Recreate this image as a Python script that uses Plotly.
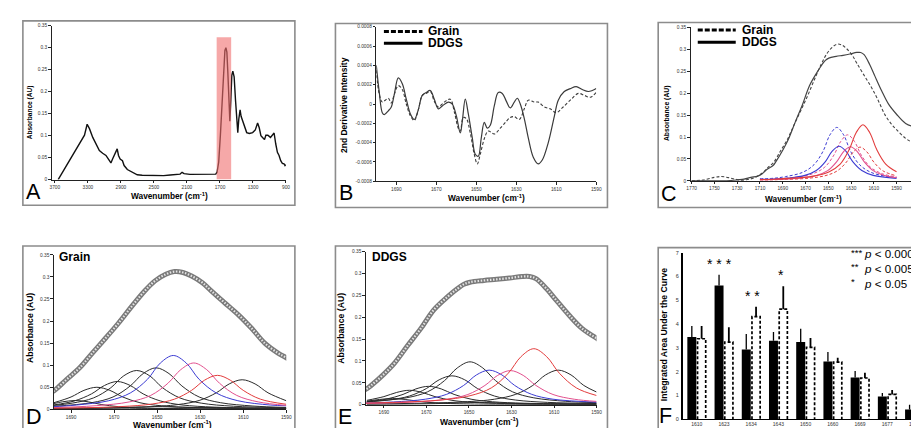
import plotly.graph_objects as go

FIG_W, FIG_H = 919, 428
FONT = "Liberation Sans, Arial, Helvetica, sans-serif"

# ---------------- Panel A : full FTIR spectrum ----------------
A_WN = [3660, 3580, 3500, 3440, 3381, 3341, 3309, 3281, 3241, 3189,
        3161, 3121, 3081, 3053, 3021, 3001, 2981, 2961, 2945, 2929,
        2909, 2881, 2861, 2822, 2762, 2702, 2642, 2542, 2382, 2302,
        2223, 2183, 2159, 2135, 2063, 1983, 1903, 1803, 1751, 1735,
        1715, 1695, 1676, 1656, 1640, 1628, 1616, 1604, 1592, 1580,
        1568, 1556, 1544, 1528, 1512, 1496, 1484, 1472, 1456, 1444,
        1432, 1416, 1396, 1376, 1344, 1304, 1272, 1244, 1224, 1204,
        1184, 1160, 1144, 1120, 1088, 1064, 1044, 1024, 1004, 984,
        964, 944, 924, 912, 901]
A_ABS = [0.000, 0.025, 0.051, 0.070, 0.088, 0.101, 0.126, 0.116, 0.096, 0.077,
         0.066, 0.060, 0.055, 0.047, 0.038, 0.047, 0.056, 0.061, 0.070, 0.055,
         0.047, 0.043, 0.032, 0.023, 0.016, 0.011, 0.010, 0.009, 0.009, 0.0105,
         0.0125, 0.0125, 0.0165, 0.0135, 0.012, 0.0125, 0.012, 0.012, 0.0125, 0.017,
         0.040, 0.100, 0.174, 0.249, 0.294, 0.300, 0.290, 0.242, 0.174, 0.133,
         0.182, 0.238, 0.247, 0.234, 0.182, 0.129, 0.107, 0.137, 0.159, 0.144,
         0.137, 0.129, 0.118, 0.107, 0.105, 0.107, 0.113, 0.129, 0.118, 0.100,
         0.096, 0.091, 0.101, 0.101, 0.096, 0.101, 0.106, 0.081, 0.062, 0.055,
         0.043, 0.037, 0.036, 0.032, 0.034]
A_HIGHLIGHT_WN = [1740, 1564]
A_HIGHLIGHT_TOP = 0.324
A_XTICKS = [3700, 3300, 2900, 2500, 2100, 1700, 1300, 900]

# ---------------- Panel B : 2nd derivative ----------------
B_DDGS = [(1700, 0.00040), (1698.5, 0.00012), (1697, -0.00009), (1696, -0.00011), (1694, -0.00007),
          (1692.5, -0.00003), (1691, 0.00010), (1689, 0.00027), (1687, 0.00021), (1685, 0.00005),
          (1683, -0.00010), (1681, -0.00016), (1679, -0.00006), (1677, 0.00009), (1675, 0.00012),
          (1673, 0.00014), (1671, 0.00005), (1669, -0.00005), (1667, -0.00002), (1664, 0.00002),
          (1662, 0.00000), (1660, -0.00012), (1658, -0.00030), (1657, -0.00018), (1655.5, 0.00005),
          (1654, -0.00010), (1652, -0.00035), (1650.5, -0.00052), (1649, -0.00054), (1647.5, -0.00035),
          (1646, -0.00019), (1644.5, -0.00025), (1643, -0.00022), (1641, -0.00002), (1639, 0.00012),
          (1637, 0.00011), (1635, 0.00003), (1633, -0.00004), (1631, 0.00002), (1629.5, 0.00006),
          (1628, 0.00000), (1626, -0.00015), (1624, -0.00035), (1621.5, -0.00055), (1619, -0.00062),
          (1617, -0.00058), (1614, -0.00040), (1611, -0.00013), (1609, 0.00004), (1606, 0.00013),
          (1603, 0.00016), (1600, 0.00018), (1597, 0.00015), (1594, 0.00013), (1592, 0.00014),
          (1590, 0.00016)]
B_GRAIN = [(1700, 0.00035), (1698.5, 0.00010), (1697, 0.00002), (1695.5, 0.00004), (1694, 0.00006),
           (1692.5, 0.00001), (1691, 0.00010), (1689, 0.00019), (1687, 0.00015), (1685, 0.00000),
           (1683, -0.00012), (1681, -0.00017), (1679, -0.00006), (1677, 0.00009), (1675, 0.00011),
           (1673, 0.00013), (1671, 0.00003), (1669, -0.00003), (1666, 0.00002), (1663, 0.00005),
           (1661, -0.00008), (1659, -0.00025), (1658, -0.00028), (1656.5, -0.00014), (1655, -0.00015),
           (1653, -0.00030), (1651, -0.00052), (1649.5, -0.00062), (1648, -0.00052), (1646, -0.00036),
           (1644, -0.00028), (1641, -0.00031), (1638, -0.00025), (1635, -0.00018), (1633, -0.00014),
           (1631, -0.00013), (1628.5, -0.00016), (1626, -0.00005), (1624, 0.00004), (1621, 0.00002),
           (1619, 0.00002), (1616, -0.00003), (1613, -0.00005), (1610, -0.00009), (1607, -0.00004),
           (1603, 0.00004), (1599, 0.00011), (1596, 0.00009), (1593, 0.00007), (1590, 0.00012)]
B_XTICKS = [1690, 1670, 1650, 1630, 1610, 1590]
B_YTICKS = [-0.0008, -0.0006, -0.0004, -0.0002, 0, 0.0002, 0.0004, 0.0006, 0.0008]
B_YTICK_TEXT = ["-0.0008", "-0.0006", "-0.0004", "-0.0002", "0", "0.0002", "0.0004", "0.0006", "0.0008"]

# ---------------- Amide I spectra (panels C, D, E) ----------------
GRAIN_SPEC = [(1770, 0.0), (1760, 0.002), (1750, 0.008), (1744, 0.010), (1738, 0.0075), (1732, 0.004),
              (1727, 0.0015), (1721, 0.003), (1715, 0.007), (1710, 0.014), (1706, 0.022), (1702, 0.033),
              (1698, 0.042), (1692, 0.068), (1686, 0.094), (1680, 0.128), (1674, 0.161), (1668, 0.195),
              (1662, 0.232), (1656, 0.267), (1651, 0.291), (1646, 0.306), (1642, 0.312), (1638, 0.310),
              (1634, 0.302), (1629, 0.287), (1625, 0.269), (1619, 0.243), (1612, 0.213), (1606, 0.183),
              (1600, 0.150), (1594, 0.128), (1590, 0.117), (1582, 0.097), (1576, 0.088), (1568, 0.084)]
DDGS_SPEC = [(1770, 0.0), (1747, 0.0), (1733, 0.0015), (1724, 0.004), (1718, 0.008), (1712, 0.011),
             (1708, 0.0165), (1704, 0.026), (1698.5, 0.035), (1696, 0.044), (1690, 0.070), (1685, 0.095),
             (1679, 0.134), (1672.5, 0.175), (1666.5, 0.217), (1660, 0.247), (1655.5, 0.265),
             (1652.5, 0.275), (1649.5, 0.280), (1643, 0.284), (1637, 0.2865), (1631, 0.2895),
             (1625, 0.293), (1621.5, 0.293), (1618.5, 0.288), (1613.5, 0.265), (1609, 0.239),
             (1603, 0.205), (1597, 0.175), (1590, 0.152), (1582, 0.131), (1576, 0.125), (1568, 0.125)]
C_XTICKS = [1770, 1750, 1730, 1710, 1690, 1670, 1650, 1630, 1610, 1590, 1570]
DE_XTICKS = [1690, 1670, 1650, 1630, 1610, 1590]

# fitted component bands, Grain (panel D)
G_1686 = [(1698, 0.013), (1694, 0.017), (1688, 0.020), (1682, 0.017), (1676, 0.011), (1668, 0.006),
          (1658, 0.003), (1643, 0.0016), (1620, 0.0009), (1590, 0.0005)]
G_1677 = [(1698, 0.015), (1690, 0.028), (1684, 0.043), (1678, 0.050), (1672, 0.043), (1666, 0.028),
          (1658, 0.015), (1648, 0.008), (1633, 0.004), (1610, 0.0022), (1590, 0.0015)]
G_1669 = [(1698, 0.010), (1688.5, 0.019), (1680.5, 0.035), (1674.5, 0.054), (1668.5, 0.063),
          (1662.5, 0.054), (1656.5, 0.035), (1648.5, 0.019), (1638.5, 0.010), (1623.5, 0.005),
          (1600, 0.0028), (1590, 0.0024)]
G_1660 = [(1698, 0.009), (1689.5, 0.014), (1679.5, 0.026), (1671.5, 0.049), (1665.5, 0.076),
          (1659.5, 0.088), (1653.5, 0.076), (1647.5, 0.049), (1639.5, 0.026), (1629.5, 0.014),
          (1614.5, 0.007), (1590, 0.0035)]
G_1650 = [(1698, 0.007), (1680.5, 0.015), (1670.5, 0.028), (1662.5, 0.053), (1656.5, 0.081),
          (1650.5, 0.094), (1644.5, 0.081), (1638.5, 0.053), (1630.5, 0.028), (1620.5, 0.015),
          (1605.5, 0.0075), (1590, 0.0042)]
G_1643 = [(1710, 0.005), (1698, 0.006), (1687.5, 0.0098), (1672.5, 0.0195), (1662.5, 0.037),
          (1654.5, 0.068), (1648.5, 0.105), (1642.5, 0.122), (1636.5, 0.105), (1630.5, 0.068),
          (1622.5, 0.037), (1612.5, 0.0195), (1597.5, 0.0098), (1590, 0.008)]
G_1634 = [(1710, 0.0035), (1698, 0.004), (1678, 0.0084), (1663, 0.0168), (1653, 0.0315), (1645, 0.059),
          (1639, 0.090), (1633, 0.105), (1627, 0.090), (1621, 0.059), (1613, 0.0315), (1603, 0.0168),
          (1590, 0.009)]
G_1623 = [(1710, 0.002), (1698, 0.0025), (1667, 0.0062), (1652, 0.0123), (1642, 0.023), (1634, 0.043),
          (1628, 0.066), (1622, 0.077), (1616, 0.066), (1610, 0.043), (1602, 0.023), (1590, 0.0115)]
G_1610 = [(1698, 0.002), (1655.5, 0.0054), (1640.5, 0.0107), (1630.5, 0.020), (1622.5, 0.0375),
          (1616.5, 0.0576), (1610.5, 0.067), (1604.5, 0.0576), (1598.5, 0.0375), (1590, 0.0195)]
G_MINOR_A = [(1698, 0.001), (1675, 0.003), (1660, 0.005), (1650, 0.006), (1640, 0.005), (1625, 0.003),
             (1590, 0.001)]
G_MINOR_B = [(1698, 0.0005), (1660, 0.0012), (1640, 0.0022), (1625, 0.004), (1615, 0.0032), (1590, 0.0012)]

# fitted component bands, DDGS (panel E)
S_1686 = [(1698, 0.008), (1692, 0.012), (1686, 0.014), (1680, 0.012), (1674, 0.008), (1666, 0.0042),
          (1656, 0.0022), (1641, 0.0011), (1590, 0.0004)]
S_1677 = [(1698, 0.010), (1690, 0.0185), (1684, 0.028), (1678, 0.033), (1672, 0.028), (1666, 0.0185),
          (1658, 0.010), (1648, 0.0053), (1633, 0.0026), (1610, 0.0015), (1590, 0.001)]
S_1669 = [(1698, 0.007), (1689, 0.0126), (1681, 0.0235), (1675, 0.036), (1669, 0.042), (1663, 0.036),
          (1657, 0.0235), (1649, 0.0126), (1639, 0.0067), (1624, 0.0034), (1600, 0.0019), (1590, 0.0016)]
S_1660 = [(1698, 0.0066), (1688, 0.0106), (1678, 0.0198), (1670, 0.037), (1664, 0.057), (1658, 0.066),
          (1652, 0.057), (1646, 0.037), (1638, 0.0198), (1628, 0.0106), (1613, 0.0053), (1590, 0.0027)]
S_1650 = [(1698, 0.0074), (1679.5, 0.0157), (1669.5, 0.0294), (1661.5, 0.055), (1655.5, 0.084),
          (1649.5, 0.098), (1643.5, 0.084), (1637.5, 0.055), (1629.5, 0.0294), (1619.5, 0.0157),
          (1604.5, 0.0078), (1590, 0.0045)]
S_1643 = [(1710, 0.0033), (1698, 0.004), (1685.5, 0.0063), (1670.5, 0.0126), (1660.5, 0.0237),
          (1652.5, 0.044), (1646.5, 0.068), (1640.5, 0.079), (1634.5, 0.068), (1628.5, 0.044),
          (1620.5, 0.0237), (1610.5, 0.0126), (1590, 0.0058)]
S_1634 = [(1710, 0.0025), (1698, 0.003), (1675.5, 0.0062), (1660.5, 0.0125), (1650.5, 0.0234),
          (1642.5, 0.044), (1636.5, 0.067), (1630.5, 0.078), (1624.5, 0.067), (1618.5, 0.044),
          (1610.5, 0.0234), (1600.5, 0.0125), (1590, 0.0075)]
S_1623 = [(1710, 0.0033), (1698, 0.0038), (1664.5, 0.0102), (1649.5, 0.0205), (1639.5, 0.0384),
          (1631.5, 0.072), (1625.5, 0.110), (1619.5, 0.128), (1613.5, 0.110), (1607.5, 0.072),
          (1599.5, 0.0384), (1590, 0.021)]
S_1610 = [(1698, 0.0016), (1653, 0.0063), (1638, 0.0126), (1628, 0.0237), (1620, 0.044), (1614, 0.068),
          (1608, 0.079), (1602, 0.068), (1596, 0.044), (1590, 0.029)]
S_MINOR_A = [(1698, 0.001), (1670, 0.002), (1655, 0.004), (1645, 0.005), (1635, 0.004), (1620, 0.002),
             (1590, 0.001)]

# ---------------- Panel F : integrated band areas ----------------
F_BANDS = ["1610", "1623", "1634", "1643", "1650", "1660", "1669", "1677", "1686"]
F_DDGS = [3.45, 5.62, 2.93, 3.30, 3.24, 2.42, 1.75, 0.95, 0.41]
F_DDGS_ERR = [0.47, 0.45, 0.65, 0.36, 0.56, 0.40, 0.28, 0.15, 0.20]
F_GRAIN = [3.38, 3.24, 4.31, 4.62, 3.02, 2.40, 1.73, 1.04, 0.65]
F_GRAIN_ERR = [0.54, 0.62, 0.41, 0.97, 0.39, 0.18, 0.22, 0.19, 0.21]
F_YTICKS = [0, 1, 2, 3, 4, 5, 6, 7]
F_SIG_BANDS = ["1623", "1634", "1643"]
F_SIG_MARKS = ["* * *", "* *", "*"]
F_SIG_LEGEND = [("***", "<i>p</i> < 0.0005"), ("**", "<i>p</i> < 0.005"), ("*", "<i>p</i> < 0.05")]

# ---------------- styling ----------------
BLACK = "#2b2b2b"
BLUE = "#3c3cd2"
PINK = "#e2508e"
RED = "#e23c3c"
FRAME = "#8c8c8c"


def px(x):
    return x / FIG_W


def py(y):
    return 1 - y / FIG_H


def unzip(pairs):
    return [p[0] for p in pairs], [p[1] for p in pairs]


fig = go.Figure()


def line_trace(pairs, xa, ya, color, width=1.1, dash=None, shape="spline", name=None):
    xs, ys = unzip(pairs)
    fig.add_trace(go.Scatter(x=xs, y=ys, mode="lines", xaxis=xa, yaxis=ya, name=name,
                             line=dict(color=color, width=width, dash=dash, shape=shape),
                             showlegend=False, hoverinfo="skip"))


# Panel A
fig.add_trace(go.Scatter(x=A_WN, y=A_ABS, mode="lines", xaxis="x", yaxis="y", name="Spectrum",
                         line=dict(color="#111111", width=1.4), showlegend=False))

# Panel B
line_trace(B_GRAIN, "x2", "y2", "#3a3a3a", 1.1, "3px,2px", name="Grain")
line_trace(B_DDGS, "x2", "y2", "#3a3a3a", 1.2, None, name="DDGS")

# Panel C
line_trace(GRAIN_SPEC, "x3", "y3", "#444444", 1.1, "3px,2px", name="Grain")
line_trace(DDGS_SPEC, "x3", "y3", "#444444", 1.2, None, name="DDGS")
for band, col in [(G_1643, BLUE), (G_1634, PINK), (G_1623, RED)]:
    line_trace(band, "x3", "y3", col, 1.0, "3px,2px")
for band, col in [(S_1643, BLUE), (S_1634, PINK), (S_1623, RED)]:
    line_trace(band, "x3", "y3", col, 1.1, None)

# Panels D and E
for spec, bands, xa, ya in [
    (GRAIN_SPEC, [(G_MINOR_A, BLACK), (G_MINOR_B, BLACK), (G_1686, BLACK), (G_1677, BLACK),
                  (G_1669, BLACK), (G_1660, BLACK), (G_1650, BLACK), (G_1610, BLACK),
                  (G_1643, BLUE), (G_1634, PINK), (G_1623, RED)], "x4", "y4"),
    (DDGS_SPEC, [(S_MINOR_A, BLACK), (S_1686, BLACK), (S_1677, BLACK), (S_1669, BLACK),
                 (S_1660, BLACK), (S_1650, BLACK), (S_1610, BLACK),
                 (S_1643, BLUE), (S_1634, PINK), (S_1623, RED)], "x5", "y5"),
]:
    for band, col in bands:
        line_trace(band, xa, ya, col, 1.0)
    line_trace(spec, xa, ya, "#7a7a7a", 5.0)
    line_trace(spec, xa, ya, "#e4e4e4", 2.2, "1.5px,1.6px")

# Panel F
idx = list(range(len(F_BANDS)))
BAR_W_D, BAR_OFF_D = 0.33, -0.345
BAR_W_G, BAR_OFF_G = 0.30, 0.03
fig.add_trace(go.Bar(x=idx, y=F_DDGS, width=BAR_W_D, offset=BAR_OFF_D, name="DDGS",
                     marker=dict(color="black", line=dict(width=0)),
                     error_y=dict(type="data", array=F_DDGS_ERR, arrayminus=[0] * len(idx), symmetric=False,
                                  color="black", thickness=1.3, width=0),
                     xaxis="x6", yaxis="y6", showlegend=False))
fig.add_trace(go.Bar(x=idx, y=F_GRAIN, width=BAR_W_G, offset=BAR_OFF_G, name="Grain",
                     marker=dict(color="white", line=dict(width=0)),
                     error_y=dict(type="data", array=F_GRAIN_ERR, arrayminus=[0] * len(idx), symmetric=False,
                                  color="black", thickness=1.8, width=0),
                     xaxis="x6", yaxis="y6", showlegend=False))
ox, oy = [], []
for i, v in zip(idx, F_GRAIN):
    x0 = i + BAR_OFF_G
    x1 = x0 + BAR_W_G
    ox += [x0, x0, x1, x1, None]
    oy += [0, v, v, 0, None]
fig.add_trace(go.Scatter(x=ox, y=oy, mode="lines", xaxis="x6", yaxis="y6", showlegend=False,
                         line=dict(color="black", width=1.7, dash="3px,2px"), hoverinfo="skip"))


def ax(**kw):
    d = dict(showgrid=False, zeroline=False, showline=True, linecolor="#222222", linewidth=1,
             ticks="outside", ticklen=2.5, tickwidth=0.8, tickcolor="#222222",
             tickfont=dict(size=4.8, color="#333333", family=FONT), fixedrange=True)
    d.update(kw)
    return d


ABS_TICKS = [0, 0.05, 0.1, 0.15, 0.2, 0.25, 0.3, 0.35]
ABS_TEXT = ["0", "0.05", "0.1", "0.15", "0.2", "0.25", "0.3", "0.35"]

layout = dict(
    width=FIG_W, height=FIG_H, margin=dict(l=0, r=0, t=0, b=0),
    paper_bgcolor="white", plot_bgcolor="white", showlegend=False,
    font=dict(family=FONT, color="black"), barmode="overlay",
    xaxis=ax(domain=[px(40), px(277)], range=[3740, 900], tickvals=A_XTICKS, anchor="y"),
    yaxis=ax(domain=[py(171), py(15)], range=[0, 0.35], tickvals=ABS_TICKS, ticktext=ABS_TEXT, anchor="x"),
    xaxis2=ax(domain=[px(368.3), px(590.7)], range=[1700, 1590], tickvals=B_XTICKS, anchor="y2"),
    yaxis2=ax(domain=[py(172.7), py(16)], range=[-0.0008, 0.0008], tickvals=B_YTICKS,
              ticktext=B_YTICK_TEXT, anchor="x2"),
    xaxis3=ax(domain=[px(686), 1.0], range=[1771, 1568.5], tickvals=C_XTICKS, anchor="y3"),
    yaxis3=ax(domain=[py(172.3), py(16.7)], range=[0, 0.35], tickvals=ABS_TICKS, ticktext=ABS_TEXT, anchor="x3"),
    xaxis4=ax(domain=[px(42.3), px(277.3)], range=[1698, 1590], tickvals=DE_XTICKS, anchor="y4"),
    yaxis4=ax(domain=[py(404), py(247.3)], range=[0, 0.35], tickvals=ABS_TICKS, ticktext=ABS_TEXT, anchor="x4"),
    xaxis5=ax(domain=[px(357.7), px(591)], range=[1698.5, 1590], tickvals=DE_XTICKS, anchor="y5"),
    yaxis5=ax(domain=[py(399.3), py(244)], range=[0, 0.35], tickvals=ABS_TICKS, ticktext=ABS_TEXT, anchor="x5"),
    xaxis6=ax(domain=[px(678.5), 1.0], range=[-0.5, 8.24], tickvals=idx, ticktext=F_BANDS, ticks="",
              linecolor="black", linewidth=1.2, anchor="y6", tickfont=dict(size=5, color="#333333", family=FONT)),
    yaxis6=ax(domain=[py(414), py(245)], range=[0, 7], tickvals=F_YTICKS, ticktext=[str(t) for t in F_YTICKS],
              anchor="x6", linecolor="black", linewidth=1.6, ticklen=1.5, tickcolor="white",
              tickfont=dict(size=5.5, color="#333333", family=FONT)),
)

shapes = []
# panel frames
for x0, y0, x1, y1 in [(11, 10, 286, 197), (327, 12.7, 602, 199.3), (653.3, 11.7, 935, 199.3),
                       (11, 238.3, 286, 425.7), (327, 238.3, 602, 425), (653.3, 240, 935, 427)]:
    shapes.append(dict(type="rect", xref="paper", yref="paper", x0=px(x0), x1=px(x1), y0=py(y1), y1=py(y0),
                       line=dict(color=FRAME, width=1.6), fillcolor="rgba(0,0,0,0)", layer="above"))
# highlighted amide I region in panel A
shapes.append(dict(type="rect", xref="x", yref="y", x0=A_HIGHLIGHT_WN[0], x1=A_HIGHLIGHT_WN[1],
                   y0=0, y1=A_HIGHLIGHT_TOP, fillcolor="rgb(240,110,110)", opacity=0.6,
                   line=dict(width=0), layer="above"))
# legend glyphs for B and C
for lx0, lx1, ly_d, ly_s in [(376, 415, 20.7, 32.7), (693.3, 731.7, 19.3, 31.7)]:
    shapes.append(dict(type="line", xref="paper", yref="paper", x0=px(lx0), x1=px(lx1), y0=py(ly_d), y1=py(ly_d),
                       line=dict(color="black", width=3, dash="5px,2px")))
    shapes.append(dict(type="line", xref="paper", yref="paper", x0=px(lx0), x1=px(lx1), y0=py(ly_s), y1=py(ly_s),
                       line=dict(color="black", width=3)))

annotations = []


def ann(text, x, y, size, angle=0, xanchor="center", yanchor="middle", xref="paper", yref="paper", conv=True):
    annotations.append(dict(text=text, x=px(x) if conv else x, y=py(y) if conv else y, xref=xref, yref=yref,
                            showarrow=False, textangle=angle, xanchor=xanchor, yanchor=yanchor,
                            font=dict(size=size, family=FONT, color="black")))


WN_TITLE = "<b>Wavenumber (cm<sup>-1</sup>)</b>"
# axis titles
ann(WN_TITLE, 159, 188, 8.3)
ann(WN_TITLE, 480, 190, 8.3)
ann(WN_TITLE, 800, 190.7, 8.3)
ann(WN_TITLE, 162, 419, 8.5)
ann(WN_TITLE, 473, 416.7, 8.5)
ann("<b>Absorbance (AU)</b>", 18, 103, 6.6, angle=-90)
ann("<b>2nd Derivative Intensity</b>", 335, 95, 8.5, angle=-90)
ann("<b>Absorbance (AU)</b>", 661.7, 103, 6.8, angle=-90)
ann("<b>Absorbance (AU)</b>", 18, 321.7, 8.6, angle=-90)
ann("<b>Absorbance (AU)</b>", 333.3, 321.7, 8.7, angle=-90)
ann("<b>Integrated Area Under the Curve</b>", 660, 328, 8.7, angle=-90)
# panel letters
for letter, lx, ly in [("A", 22, 184), ("B", 337.5, 185), ("C", 664, 186),
                       ("D", 22, 411.5), ("E", 336.7, 411.5), ("F", 661, 410.5)]:
    ann(letter, lx, ly, 21.5)
# legends in B and C
for tx, ty_g, ty_d in [(419, 20.4, 32.6), (736, 19.0, 31.4)]:
    ann("<b>Grain</b>", tx, ty_g, 12, xanchor="left")
    ann("<b>DDGS</b>", tx, ty_d, 12, xanchor="left")
# sample labels in D and E
ann("<b>Grain</b>", 46, 249, 12, xanchor="left")
ann("<b>DDGS</b>", 362, 249, 12, xanchor="left")
# significance marks in F
STAR_DX = [-0.15, 0.06, 0.10]
for band, mark, dx in zip(F_SIG_BANDS, F_SIG_MARKS, STAR_DX):
    i = F_BANDS.index(band)
    top = max(F_DDGS[i] + F_DDGS_ERR[i], F_GRAIN[i] + F_GRAIN_ERR[i])
    ann(mark, i + dx, top + 0.45, 14, xref="x6", yref="y6", conv=False)
for k, (stars, label) in enumerate(F_SIG_LEGEND):
    yy = 246 + 15 * k
    ann(stars, 846, yy - 1.5, 9.5, xanchor="left")
    ann(label, 859, yy, 11.6, xanchor="left")

layout["shapes"] = shapes
layout["annotations"] = annotations
fig.update_layout(**layout)

fig.write_html("out.html", config=dict(displayModeBar=False))
